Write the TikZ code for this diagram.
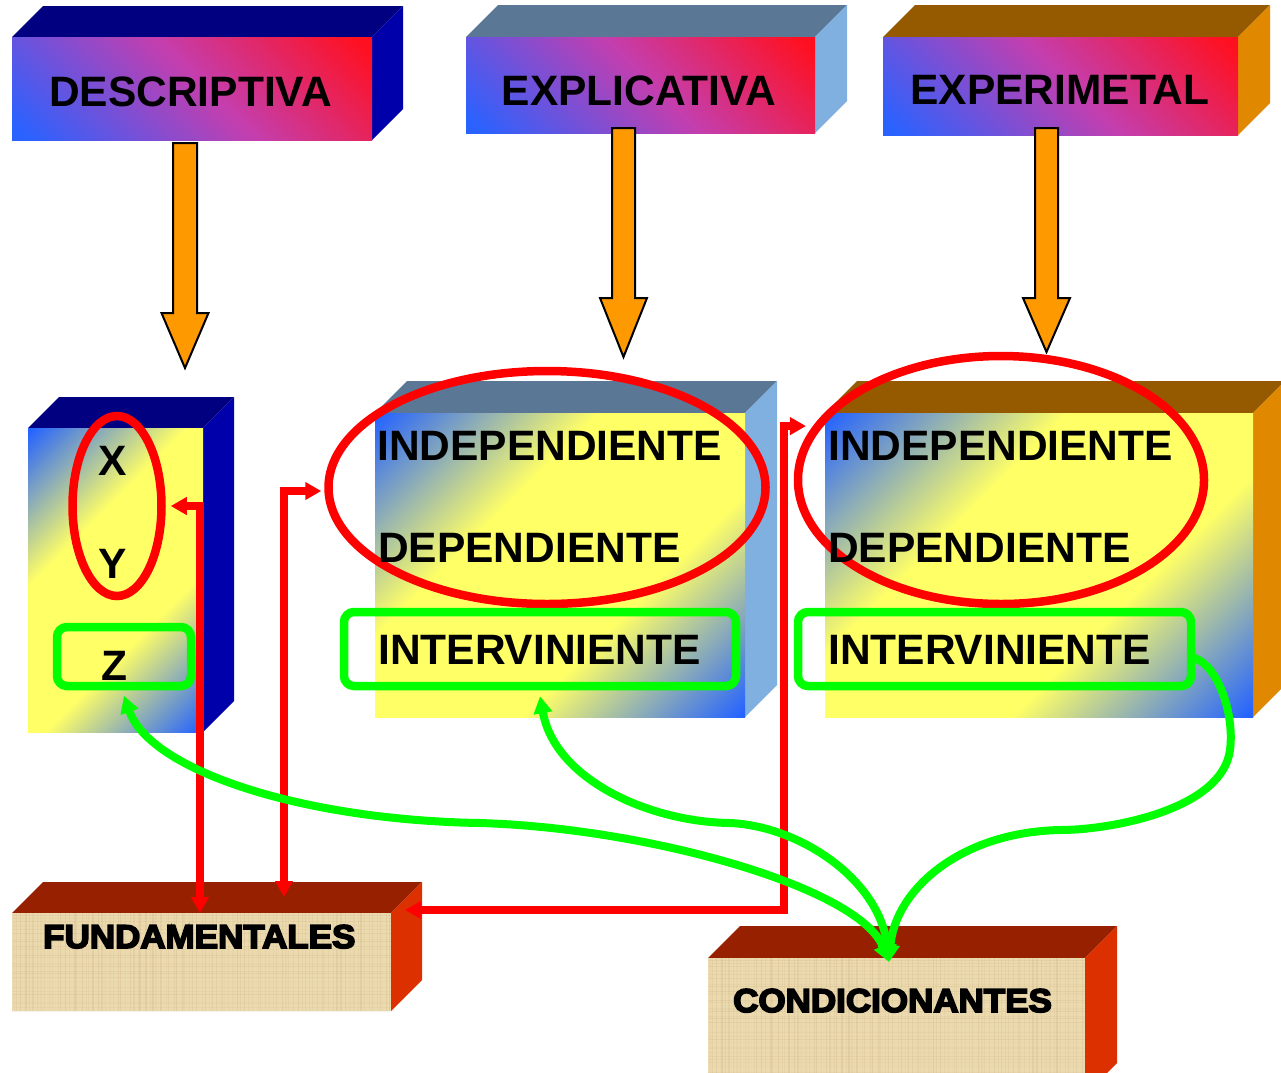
\documentclass[tikz,border=0pt]{standalone}
\usepackage{fontspec}
\setmainfont{Liberation Sans}
\newfontfamily\heavyfont[BoldFeatures={FakeBold=5,FakeStretch=1.06}]{Liberation Sans}
\usetikzlibrary{arrows.meta,calc,shapes.geometric}
\definecolor{gblue}{HTML}{2A62FF}
\definecolor{gmag}{HTML}{C43EAE}
\definecolor{gred}{HTML}{FF1020}
\definecolor{lblue}{HTML}{2563FF}
\definecolor{lyel}{HTML}{FFFF66}
\definecolor{navytop}{HTML}{000080}
\definecolor{navyside}{HTML}{0000AA}
\definecolor{slatetop}{HTML}{5A7896}
\definecolor{slateside}{HTML}{80B0E0}
\definecolor{browntop}{HTML}{955A00}
\definecolor{brownside}{HTML}{E08800}
\definecolor{rusttop}{HTML}{962000}
\definecolor{rustside}{HTML}{DD3000}
\definecolor{parch}{HTML}{EAD5A4}
\definecolor{parchdark}{HTML}{A8884E}
\definecolor{orfill}{HTML}{FF9900}
\definecolor{gline}{HTML}{00FF00}
\definecolor{rline}{HTML}{FF0000}
\pgfdeclareverticalshading{pinkgrad}{100bp}{color(0bp)=(gblue); color(17bp)=(gblue); color(52bp)=(gmag); color(83bp)=(gred); color(100bp)=(gred)}
\pgfdeclareverticalshading{bygrad}{100bp}{color(0bp)=(lblue); color(15bp)=(lblue); color(38bp)=(lyel); color(62bp)=(lyel); color(85bp)=(lblue); color(100bp)=(lblue)}
\newcommand\cuboid[7]{%
  \fill[#6] (#1,#2) -- (#1+#5,#2-#5) -- (#3+#5,#2-#5) -- (#3,#2) -- cycle;
  \fill[#7] (#3,#2) -- (#3+#5,#2-#5) -- (#3+#5,#4-#5) -- (#3,#4) -- cycle;
}
\newcommand\orarrow[6]{%
  \draw[orarr] (#1-#2,#4) -- (#1+#2,#4) -- (#1+#2,#5) -- (#1+#3,#5) -- (#1,#6) -- (#1-#3,#5) -- (#1-#2,#5) -- cycle;
}
\newcommand\parchment[4]{%
  \fill[parch] (#1,#2) rectangle (#3,#4);
  \begin{scope}
    \clip (#1,#2) rectangle (#3,#4);
    \pgfmathsetseed{7}
    \foreach \k in {0,...,95}{%
      \pgfmathsetmacro\xx{#1+\k*4+rnd*3}
      \pgfmathsetmacro\oo{0.05+0.12*rnd}
      \draw[parchdark,opacity=\oo,line width=1.2pt] (\xx,#2) -- (\xx,#4);}
    \foreach \k in {0,...,35}{%
      \pgfmathsetmacro\yy{#2+\k*4+rnd*3}
      \pgfmathsetmacro\oo{0.04+0.10*rnd}
      \draw[parchdark,opacity=\oo,line width=1.2pt] (#1,\yy) -- (#3,\yy);}
    \fill[white,opacity=0.12] (#1,#2) rectangle (#3,#4);
  \end{scope}
}
\begin{document}
\begin{tikzpicture}[x=1pt,y=-1pt,
  big/.style={font=\bfseries\fontsize{42.5}{50}\selectfont, inner sep=0pt, text=black},
  heavy/.style={font=\heavyfont\bfseries\fontsize{33}{40}\selectfont, inner sep=0pt, text=black},
  orarr/.style={fill=orfill, draw=black, line width=2pt, line join=miter},
  redln/.style={draw=rline, line width=7.5pt, {Triangle[length=16pt,width=17pt]}-{Triangle[length=16pt,width=17pt]}},
  grnln/.style={draw=gline, line width=8pt, {Triangle[length=17pt,width=18pt]}-{Triangle[length=17pt,width=18pt]}},
  grnone/.style={draw=gline, line width=8pt, -{Triangle[length=17pt,width=18pt]}},
  ovalr/.style={ellipse, draw=rline, line width=8.5pt, inner sep=0pt},
  grect/.style={rectangle, draw=gline, line width=8.5pt, rounded corners=10pt, inner sep=0pt},
  pinkface/.style={shading=pinkgrad, shading angle=-45},
  byface/.style={shading=bygrad, shading angle=45}]
\useasboundingbox (0,0) rectangle (1281,1072);
\fill[white] (0,0) rectangle (1281,1072);

% ---- top boxes
\cuboid{12}{37}{372}{140}{31}{navytop}{navyside}
\shade[pinkface] (12,37) rectangle (372,140);
\cuboid{466}{37}{815}{133}{32}{slatetop}{slateside}
\shade[pinkface] (466,37) rectangle (815,133);
\cuboid{883}{37}{1238}{135}{32}{browntop}{brownside}
\shade[pinkface] (883,37) rectangle (1238,135);

\node[big, anchor=base] (desc) at (190.5,106) {DESCRIPTIVA};
\node[big, anchor=base] (expl) at (639,105) {EXPLICATIVA};
\node[big, anchor=base] (expe) at (1060,104) {EXPERIMETAL};

% ---- lower boxes
\cuboid{28}{428}{203}{732}{31}{navytop}{navyside}
\shade[byface] (28,428) rectangle (203,732);
\cuboid{375}{413}{745}{717}{32}{slatetop}{slateside}
\shade[byface] (375,413) rectangle (745,717);
\cuboid{825}{413}{1253}{717}{32}{browntop}{brownside}
\shade[byface] (825,413) rectangle (1253,717);

% ---- bottom boxes
\cuboid{12}{913}{391}{1011}{31}{rusttop}{rustside}
\parchment{12}{913}{391}{1011}
\cuboid{708}{958}{1085}{1095}{32}{rusttop}{rustside}
\parchment{708}{958}{1085}{1095}

% ---- orange arrows
\orarrow{185}{12}{23.5}{143}{313}{368}
\orarrow{623.5}{11.5}{23.5}{128}{298}{357}
\orarrow{1046.5}{11.5}{23.5}{128}{298}{352}

% ---- ovals and frames
\node[ovalr, minimum width=89pt, minimum height=180pt] (ovxy) at (117,506) {};
\node[ovalr, minimum width=437pt, minimum height=233pt] (ovm) at (547,487.5) {};
\node[ovalr, minimum width=406pt, minimum height=248pt] (ovr) at (1001,480) {};
\node[grect, minimum width=134pt, minimum height=59pt] (rz) at (124,656.5) {};
\node[grect, minimum width=392pt, minimum height=74pt] (rm) at (540,649) {};
\node[grect, minimum width=393pt, minimum height=74pt] (rr) at (994.5,649) {};

% ---- texts
\node[big, anchor=base] (tx) at (113,475) {X};
\node[big, anchor=base] (ty) at (113,578) {Y};
\node[big, anchor=base] (tz) at (114,680) {Z};
\node[big, anchor=base west] (mind) at (377,460) {INDEPENDIENTE};
\node[big, anchor=base west] (mdep) at (378,562) {DEPENDIENTE};
\node[big, anchor=base west] (mint) at (378,664) {INTERVINIENTE};
\node[big, anchor=base west] (rind) at (828,460) {INDEPENDIENTE};
\node[big, anchor=base west] (rdep) at (828,562) {DEPENDIENTE};
\node[big, anchor=base west] (rint) at (828,664) {INTERVINIENTE};
\node[heavy, anchor=base west] (fund) at (43,948) {FUNDAMENTALES};
\node[heavy, anchor=base west] (cond) at (733,1012) {CONDICIONANTES};

% ---- red connectors
\coordinate (f1) at (200,913);
\coordinate (f2) at (284,897);
\coordinate (f3) at (405,910);
\coordinate (r3b) at ($(ovr.164)+(-7,0)$);
\draw[redln] ($(ovxy.east)+(5,0)$) -| (f1);
\draw[redln] ($(ovm.west)+(-3,3.5)$) -| (f2);
\draw[redln] (f3) -| ($(r3b)+(-22,0)$) -- (r3b);

% ---- green connectors
\coordinate (ct) at (889,962);
\draw[grnln] ($(rz.south)+(0,5.5)$) .. controls (150,770) and (300,820) .. (480,823)
   .. controls (650,828) and (860,888) .. (ct);
\draw[grnln] ($(rm.south)+(0,6)$) .. controls (555,780) and (650,822) .. (730,823)
   .. controls (800,826) and (880,880) .. (ct);
\draw[grnone] ($(rr.east)+(-5,8)$) .. controls (1215,660) and (1235,710) .. (1230,750)
   .. controls (1222,810) and (1110,830) .. (1060,830)
   .. controls (960,832) and (895,890) .. (ct);
\end{tikzpicture}
\end{document}
